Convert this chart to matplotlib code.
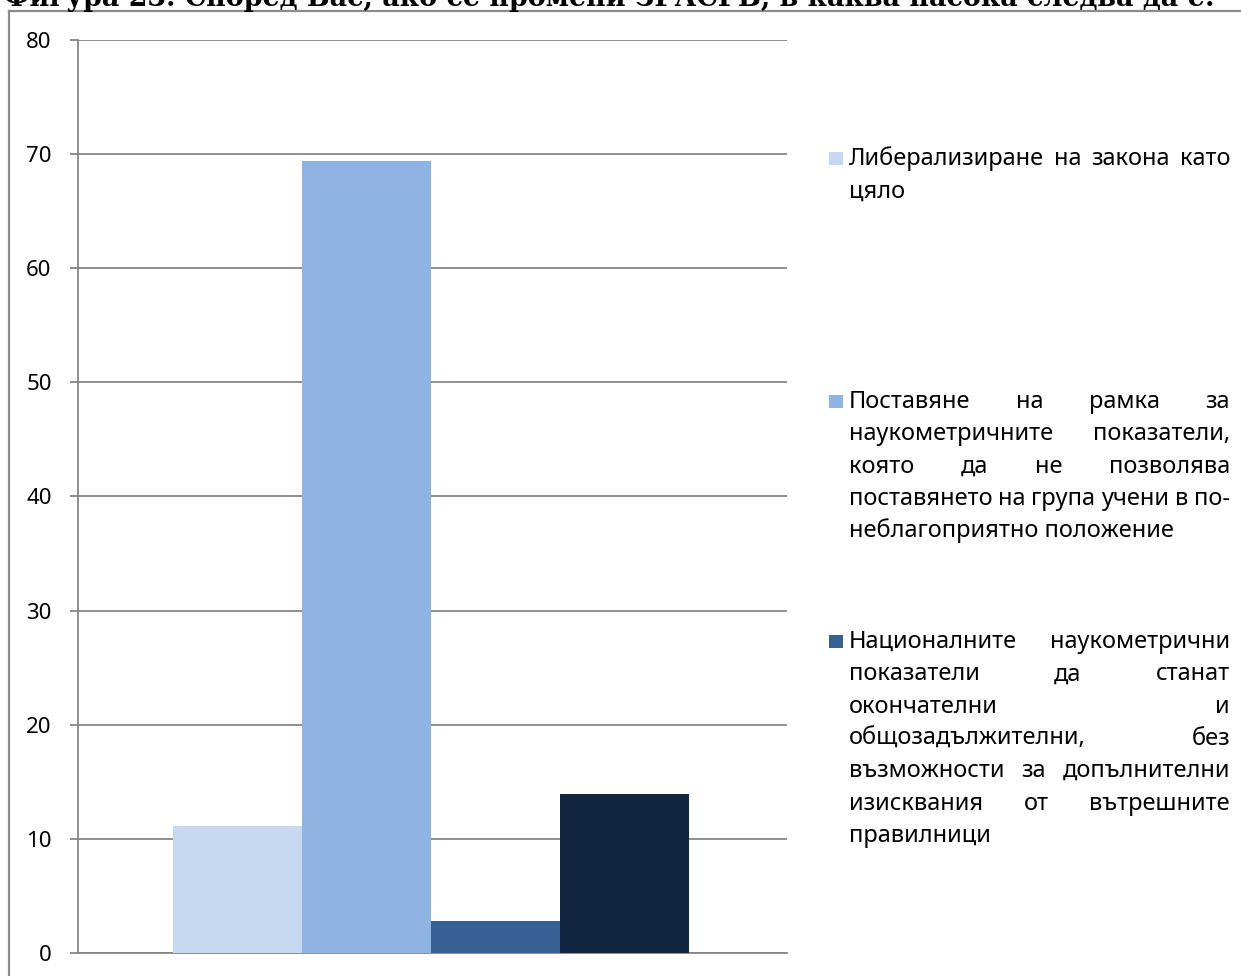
import matplotlib
matplotlib.use("Agg")
import matplotlib.pyplot as plt
from matplotlib.lines import Line2D
from matplotlib.patches import Rectangle

plt.rcParams['font.family'] = ['Noto Sans', 'DejaVu Sans']

# survey answers, percent of respondents
answers = [
    "Либерализиране на закона като\nцяло",
    "Поставяне на рамка за\nнаукометричните показатели,\nкоято да не позволява\nпоставянето на група учени в по-\nнеблагоприятно положение",
    "Националните наукометрични\nпоказатели да станат\nокончателни и\nобщозадължителни, без\nвъзможности за допълнителни\nизисквания от вътрешните\nправилници",
]
shares = [11.1, 69.4, 2.8, 13.9]
bar_colors = ["#C6D9F1", "#8EB4E3", "#376092", "#10253F"]
y_ticks = [0, 10, 20, 30, 40, 50, 60, 70, 80]
title = "Фигура 23. Според Вас, ако се промени ЗРАСРБ, в каква насока следва да е:"

W, H = 1241, 976
fig = plt.figure(figsize=(W / 100, H / 100), dpi=100)

def fx(px):
    return px / W

def fy(py):
    return 1 - py / H

grid_gray = "#868686"

ax = fig.add_axes([fx(78), fy(953), fx(787) - fx(78), fy(40) - fy(953)])
positions = [-1.5, -0.5, 0.5, 1.5]
for pos, val, col in zip(positions, shares, bar_colors):
    ax.bar(pos, val, width=1.0, color=col, zorder=3)

ax.set_xlim(-2.74, 2.76)
ax.set_ylim(0, 80)
ax.set_yticks(y_ticks)
ax.set_xticks([])
ax.yaxis.grid(True, color=grid_gray, linewidth=1.3, zorder=0)
for side in ("top", "right"):
    ax.spines[side].set_visible(False)
for side in ("left", "bottom"):
    ax.spines[side].set_color(grid_gray)
    ax.spines[side].set_linewidth(1.3)
ax.tick_params(axis="y", length=6, width=1.3, color=grid_gray, pad=13,
               labelsize=16, labelcolor="black")

# outer frame of the chart object
fig.add_artist(Line2D([fx(9), 1.0], [fy(11), fy(11)], color="#8c8c8c", linewidth=1.6))
fig.add_artist(Line2D([fx(9), fx(9)], [fy(11), 0.0], color="#8c8c8c", linewidth=1.6))

# heading, partly above the page edge
fig.text(fx(4), fy(6), title, fontsize=19.35, fontweight="bold",
         family=["DejaVu Serif"], ha="left", va="baseline")

# legend with justified text
renderer = fig.canvas.get_renderer()
text_left, text_right = 849, 1230
line_step = 32.3
legend_fs = 17
first_baselines = [165, 408, 648]

def word_width(word):
    t = fig.text(0, 0, word, fontsize=legend_fs)
    w = t.get_window_extent(renderer).width
    t.remove()
    return w

for label, col, base in zip(answers, bar_colors, first_baselines):
    fig.add_artist(Rectangle((fx(829), fy(base)), fx(14), 13 / H,
                             facecolor=col, edgecolor="none"))
    lines = label.split("\n")
    for i, line in enumerate(lines):
        y = fy(base + i * line_step)
        words = line.split(" ")
        if i == len(lines) - 1 or len(words) == 1:
            fig.text(fx(text_left), y, line, fontsize=legend_fs,
                     ha="left", va="baseline")
            continue
        widths = [word_width(w) for w in words]
        gap = (text_right - text_left - sum(widths)) / (len(words) - 1)
        x = text_left
        for w, wd in zip(words, widths):
            fig.text(fx(x), y, w, fontsize=legend_fs, ha="left", va="baseline")
            x += wd + gap

fig.savefig("out.png", dpi=100)
